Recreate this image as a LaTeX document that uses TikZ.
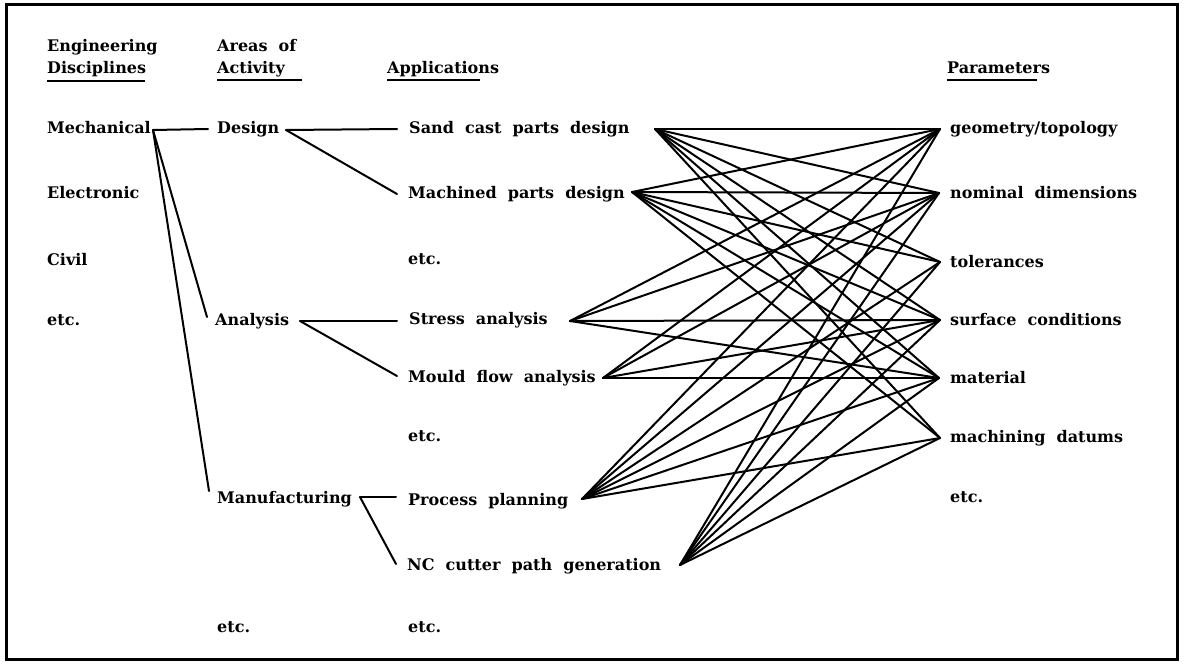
\documentclass[tikz,border=0pt]{standalone}
\usepackage{fontspec}
\newfontfamily\typer[WordSpace=2]{DejaVu Serif}
\usetikzlibrary{calc}
\begin{document}
\begin{tikzpicture}[x=1pt,y=-1pt,
  lbl/.style={anchor=base west, inner sep=0pt, font=\typer\bfseries\fontsize{16}{18}\selectfont},
  link/.style={line width=2pt, line cap=round, line join=round},
  uline/.style={line width=1.6pt},
  frame/.style={line width=3pt}]
\useasboundingbox (0,0) rectangle (1188,669);
\draw[frame] (6,5) rectangle (1177,659);

% column headings
\node[lbl] (h1a) at (47,52) {Engineering};
\node[lbl] (h1b) at (47,74) {Disciplines};
\node[lbl] (h2a) at (217,52) {Areas of};
\node[lbl] (h2b) at (217,74) {Activity};
\node[lbl] (h3)  at (387,74) {Applications};
\node[lbl] (h4)  at (947,74) {Parameters};
\draw[uline] (47,81) -- (145,81);
\draw[uline] (217,80) -- (302,80);
\draw[uline] (387,80) -- (480,80);
\draw[uline] (947,80) -- (1037,80);

% engineering disciplines
\node[lbl] (mech) at (47,133) {Mechanical};
\node[lbl] (elec) at (47,198) {Electronic};
\node[lbl] (civil) at (47,265) {Civil};
\node[lbl] (etc1) at (47,325) {etc.};

% areas of activity
\node[lbl] (design) at (217,133) {Design};
\node[lbl] (anal) at (215,325) {Analysis};
\node[lbl] (manuf) at (217,503) {Manufacturing};
\node[lbl] (etc2) at (217,632) {etc.};

% applications
\node[lbl] (sand) at (409,133) {Sand cast parts design};
\node[lbl] (mach) at (408,198) {Machined parts design};
\node[lbl] (etc3a) at (408,264) {etc.};
\node[lbl] (stress) at (409,324) {Stress analysis};
\node[lbl] (mould) at (408,382) {Mould flow analysis};
\node[lbl] (etc3b) at (408,441) {etc.};
\node[lbl] (proc) at (408,505) {Process planning};
\node[lbl] (nc) at (407,570) {NC cutter path generation};
\node[lbl] (etc3c) at (408,632) {etc.};

% parameters
\node[lbl] (geo) at (950,133) {geometry/topology};
\node[lbl] (nom) at (950,198) {nominal dimensions};
\node[lbl] (tol) at (950,267) {tolerances};
\node[lbl] (surf) at (950,325) {surface conditions};
\node[lbl] (mat) at (950,383) {material};
\node[lbl] (datum) at (950,442) {machining datums};
\node[lbl] (etc4) at (950,502) {etc.};

% connection ports
\coordinate (mech-o) at (153,130);
\coordinate (design-i) at (208,129);
\coordinate (anal-i) at (207,317);
\coordinate (manuf-i) at (209,491);
\coordinate (design-o) at (286,130);
\coordinate (anal-o) at (300,321);
\coordinate (manuf-o) at (360,497);
\coordinate (sand-i) at (397,129);
\coordinate (mach-i) at (397,194);
\coordinate (stress-i) at (397,321);
\coordinate (mould-i) at (397,376);
\coordinate (proc-i) at (396,497);
\coordinate (nc-i) at (396,564);

\coordinate (sand-o) at (655,129);
\coordinate (mach-o) at (632,192);
\coordinate (stress-o) at (570,321);
\coordinate (mould-o) at (603,378);
\coordinate (proc-o) at (582,499);
\coordinate (nc-o) at (680,565);

\coordinate (geo-i) at (940,129);
\coordinate (nom-i) at (939,193);
\coordinate (tol-i) at (940,262);
\coordinate (surf-i) at (940,320);
\coordinate (mat-i) at (939,378);
\coordinate (datum-i) at (940,438);

% discipline -> activity
\draw[link] (mech-o) -- (design-i);
\draw[link] (mech-o) -- (anal-i);
\draw[link] (mech-o) -- (manuf-i);

% activity -> application
\draw[link] (design-o) -- (sand-i);
\draw[link] (design-o) -- (mach-i);
\draw[link] (anal-o) -- (stress-i);
\draw[link] (anal-o) -- (mould-i);
\draw[link] (manuf-o) -- (proc-i);
\draw[link] (manuf-o) -- (nc-i);

% application -> parameter
\foreach \s in {sand,mach,proc,nc}
  \foreach \t in {geo,nom,tol,surf,mat,datum}
    \draw[link] (\s-o) -- (\t-i);
\foreach \s in {stress,mould}
  \foreach \t in {geo,nom,surf,mat}
    \draw[link] (\s-o) -- (\t-i);
\end{tikzpicture}
\end{document}
